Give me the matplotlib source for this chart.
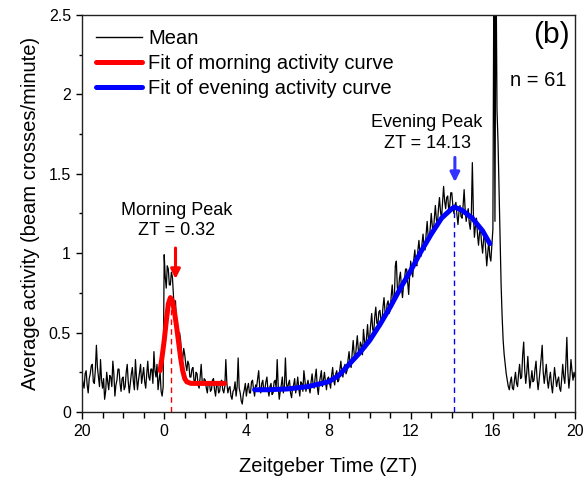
import numpy as np
import matplotlib
matplotlib.use("Agg")
import matplotlib.pyplot as plt
from matplotlib.ticker import MultipleLocator

plt.rcParams['font.family'] = ['Liberation Sans', 'DejaVu Sans']

# mean activity, sampled every 0.05 h starting at ZT 20 (= -4), one row per hour
mean_activity = [
    0.22, 0.18, 0.15, 0.24, 0.26, 0.17, 0.12, 0.21, 0.24, 0.29, 0.30, 0.19, 0.18, 0.27, 0.42, 0.28, 0.22, 0.16, 0.33, 0.20,  # -4
    0.15, 0.21, 0.08, 0.13, 0.25, 0.19, 0.14, 0.23, 0.22, 0.16, 0.32, 0.24, 0.10, 0.17, 0.20, 0.27, 0.27, 0.18, 0.13, 0.21,  # -3
    0.22, 0.14, 0.16, 0.25, 0.30, 0.19, 0.12, 0.18, 0.24, 0.28, 0.19, 0.14, 0.33, 0.22, 0.14, 0.20, 0.25, 0.30, 0.18, 0.23,  # -2
    0.28, 0.19, 0.15, 0.24, 0.32, 0.22, 0.20, 0.27, 0.27, 0.18, 0.38, 0.26, 0.22, 0.30, 0.14, 0.20, 0.25, 0.13, 0.10, 0.16,  # -1
    0.99, 0.85, 0.78, 0.92, 0.90, 0.80, 0.80, 0.88, 0.85, 0.74, 0.62, 0.70, 0.55, 0.48, 0.42, 0.50, 0.45, 0.36, 0.33, 0.40,  # 0
    0.36, 0.30, 0.26, 0.32, 0.30, 0.22, 0.22, 0.27, 0.28, 0.20, 0.18, 0.25, 0.24, 0.17, 0.15, 0.22, 0.30, 0.19, 0.17, 0.21,  # 1
    0.20, 0.15, 0.12, 0.19, 0.19, 0.13, 0.14, 0.20, 0.21, 0.14, 0.10, 0.17, 0.18, 0.12, 0.13, 0.19, 0.20, 0.14, 0.12, 0.16,  # 2
    0.33, 0.18, 0.12, 0.15, 0.16, 0.10, 0.08, 0.13, 0.14, 0.19, 0.10, 0.16, 0.34, 0.15, 0.12, 0.07, 0.05, 0.11, 0.14, 0.18,  # 3
    0.10, 0.15, 0.18, 0.12, 0.12, 0.19, 0.20, 0.14, 0.10, 0.17, 0.16, 0.21, 0.26, 0.15, 0.12, 0.18, 0.20, 0.13, 0.14, 0.19,  # 4
    0.22, 0.14, 0.10, 0.16, 0.18, 0.11, 0.12, 0.19, 0.20, 0.15, 0.33, 0.16, 0.08, 0.13, 0.17, 0.22, 0.12, 0.16, 0.34, 0.18,  # 5
    0.14, 0.18, 0.20, 0.12, 0.09, 0.15, 0.17, 0.21, 0.12, 0.16, 0.22, 0.15, 0.10, 0.19, 0.18, 0.13, 0.26, 0.20, 0.13, 0.17,  # 6
    0.20, 0.15, 0.12, 0.19, 0.24, 0.17, 0.15, 0.22, 0.27, 0.16, 0.11, 0.18, 0.22, 0.26, 0.16, 0.20, 0.25, 0.19, 0.14, 0.21,  # 7
    0.22, 0.18, 0.15, 0.23, 0.28, 0.20, 0.17, 0.24, 0.26, 0.19, 0.20, 0.27, 0.32, 0.24, 0.22, 0.28, 0.30, 0.24, 0.26, 0.33,  # 8
    0.38, 0.30, 0.28, 0.37, 0.45, 0.36, 0.33, 0.41, 0.48, 0.39, 0.36, 0.44, 0.42, 0.36, 0.52, 0.45, 0.40, 0.47, 0.55, 0.44,  # 9
    0.47, 0.55, 0.62, 0.52, 0.50, 0.60, 0.66, 0.56, 0.55, 0.63, 0.64, 0.58, 0.57, 0.66, 0.72, 0.63, 0.60, 0.68, 0.70, 0.62,  # 10
    0.64, 0.73, 0.80, 0.70, 0.70, 0.92, 0.95, 0.78, 0.75, 0.84, 0.88, 0.78, 0.72, 0.80, 0.84, 0.90, 0.90, 0.82, 0.74, 0.86,  # 11
    0.95, 0.88, 0.85, 0.96, 1.02, 0.93, 0.92, 1.02, 1.08, 0.99, 0.98, 1.06, 1.12, 1.04, 1.02, 1.12, 1.20, 1.10, 1.08, 1.16,  # 12
    1.25, 1.17, 1.12, 1.22, 1.30, 1.21, 1.18, 1.28, 1.35, 1.26, 1.22, 1.32, 1.42, 1.33, 1.28, 1.35, 1.36, 1.27, 1.30, 1.38,  # 13
    1.38, 1.30, 1.25, 1.30, 1.32, 1.24, 1.18, 1.26, 1.30, 1.23, 1.22, 1.30, 1.40, 1.27, 1.20, 1.25, 1.28, 1.19, 1.15, 1.24,  # 14
    1.57, 1.25, 1.10, 1.17, 1.22, 1.12, 1.05, 1.13, 1.15, 1.06, 1.00, 1.09, 1.12, 1.02, 0.92, 1.00, 1.08, 0.98, 0.95, 1.05,  # 15
    1.15, 2.90, 1.20, 2.90, 1.90, 1.70, 1.40, 1.10, 0.80, 0.60, 0.45, 0.36, 0.30, 0.24, 0.20, 0.16, 0.14, 0.19, 0.22, 0.15,  # 16
    0.14, 0.20, 0.25, 0.18, 0.16, 0.24, 0.30, 0.21, 0.22, 0.36, 0.44, 0.26, 0.18, 0.25, 0.35, 0.24, 0.15, 0.20, 0.26, 0.19,  # 17
    0.20, 0.27, 0.32, 0.21, 0.14, 0.20, 0.27, 0.34, 0.42, 0.25, 0.18, 0.24, 0.30, 0.20, 0.15, 0.21, 0.25, 0.17, 0.12, 0.20,  # 18
    0.28, 0.22, 0.16, 0.20, 0.22, 0.15, 0.13, 0.21, 0.30, 0.22, 0.18, 0.30, 0.47, 0.25, 0.15, 0.22, 0.33, 0.26, 0.20, 0.25,  # 19
    0.22,
]
zt = -4 + 0.05 * np.arange(len(mean_activity))

# fitted curves
morning_zt = [-0.2, -0.1, 0.0, 0.1, 0.2, 0.3, 0.4, 0.5, 0.6, 0.7, 0.8, 0.9, 1.0, 1.1, 1.3, 2.0, 2.95]
morning_fit = [0.26, 0.35, 0.45, 0.57, 0.68, 0.72, 0.70, 0.63, 0.54, 0.44, 0.34, 0.26, 0.21, 0.19, 0.18, 0.18, 0.18]

evening_zt = [4.4, 5.0, 6.0, 7.0, 8.0, 8.5, 9.0, 9.5, 10.0, 10.5, 11.0, 11.5, 12.0,
              12.5, 13.0, 13.5, 14.0, 14.13, 14.5, 15.0, 15.5, 15.85]
evening_fit = [0.14, 0.14, 0.145, 0.16, 0.19, 0.23, 0.30, 0.37, 0.45, 0.55, 0.66, 0.78, 0.89,
               1.01, 1.12, 1.22, 1.28, 1.29, 1.27, 1.22, 1.14, 1.06]

morning_peak = 0.32
evening_peak = 14.13

xtick_pos = [-4, 0, 4, 8, 12, 16, 20]
xtick_labels = ['20', '0', '4', '8', '12', '16', '20']
ytick_pos = [0, 0.5, 1, 1.5, 2, 2.5]
ytick_labels = ['0', '0.5', '1', '1.5', '2', '2.5']

fig = plt.figure(figsize=(5.88, 4.8), dpi=100)
ax = fig.add_axes([0.1395, 0.1417, 0.8385, 0.8273])

ax.plot(zt, mean_activity, color='black', lw=0.9, label='Mean')
ax.plot(morning_zt, morning_fit, color='#ff0000', lw=3.6, solid_capstyle='round',
        label='Fit of morning activity curve')
ax.plot(evening_zt, evening_fit, color='#0000ff', lw=3.6, solid_capstyle='round',
        label='Fit of evening activity curve')

# peak markers
ax.plot([morning_peak, morning_peak], [0, 0.72], color='#ff0000', lw=1, ls=(0, (4, 3)))
ax.plot([evening_peak, evening_peak], [0, 1.29], color='#0000ff', lw=1, ls=(0, (4, 3)))
ax.annotate('', xy=(0.55, 0.82), xytext=(0.55, 1.05),
            arrowprops=dict(arrowstyle='-|>', color='#ff0000', lw=2.2, mutation_scale=14))
ax.annotate('', xy=(14.15, 1.43), xytext=(14.15, 1.62),
            arrowprops=dict(arrowstyle='-|>', color='#3333ff', lw=2.2, mutation_scale=14))

ax.text(0.62, 1.27, 'Morning Peak', ha='center', va='center', fontsize=13)
ax.text(0.62, 1.14, 'ZT = 0.32', ha='center', va='center', fontsize=13)
ax.text(12.8, 1.82, 'Evening Peak', ha='center', va='center', fontsize=13)
ax.text(12.8, 1.69, 'ZT = 14.13', ha='center', va='center', fontsize=13)
ax.text(0.99, 0.95, '(b)', transform=ax.transAxes, ha='right', va='center', fontsize=21.5)
ax.text(0.982, 0.835, 'n = 61', transform=ax.transAxes, ha='right', va='center', fontsize=14.5)

ax.set_xlim(-4, 20)
ax.set_ylim(0, 2.5)
ax.set_xticks(xtick_pos)
ax.set_xticklabels(xtick_labels)
ax.set_yticks(ytick_pos)
ax.set_yticklabels(ytick_labels)
ax.xaxis.set_minor_locator(MultipleLocator(1))
ax.yaxis.set_minor_locator(MultipleLocator(0.25))
ax.tick_params(axis='both', which='major', direction='out', labelsize=11.5, width=1)
ax.tick_params(axis='x', which='major', length=5)
ax.tick_params(axis='x', which='minor', length=4.5, width=1)
ax.tick_params(axis='y', which='major', length=4.5)
ax.tick_params(axis='y', which='minor', length=2.5, width=1)
for s in ax.spines.values():
    s.set_linewidth(1)
    s.set_color('#222222')

ax.set_xlabel('Zeitgeber Time (ZT)', fontsize=14.5, labelpad=13)
ax.set_ylabel('Average activity (beam crosses/minute)', fontsize=14.5, labelpad=6)

leg = ax.legend(loc='upper left', frameon=False, fontsize=14.5, handlelength=2.3,
                handletextpad=0.3, labelspacing=0.3, borderaxespad=0.3)
leg.get_lines()[0].set_linewidth(1)

fig.savefig('out.png', dpi=100)
